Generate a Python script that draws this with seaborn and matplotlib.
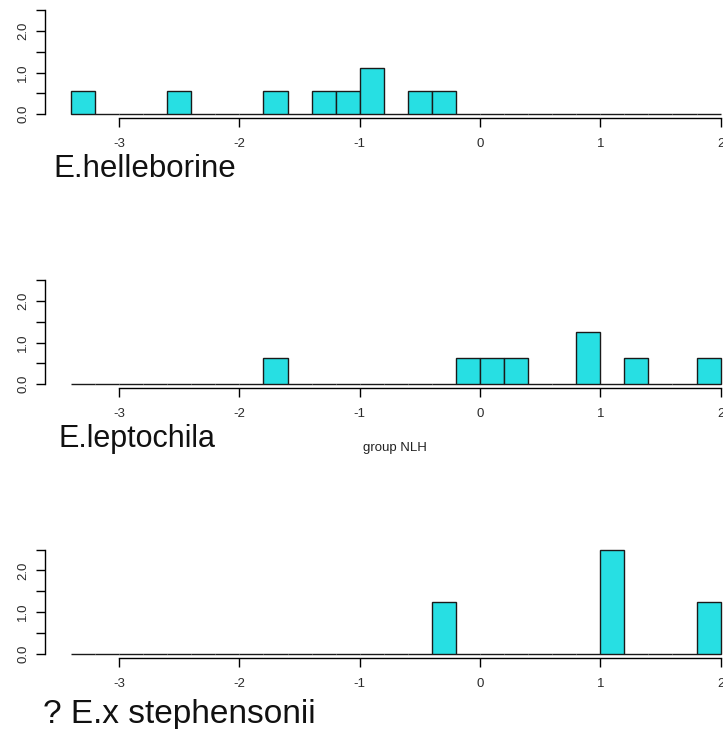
import numpy as np
import pandas as pd
import matplotlib
matplotlib.use("Agg")
import matplotlib.pyplot as plt
import seaborn as sns

# ---- data (LD1 scores) ----
groups = ["E.helleborine", "E.leptochila", "? E.x stephensonii"]
ld1_helleborine = [-3.3, -2.5, -1.7, -1.3, -1.1, -0.9, -0.9, -0.5, -0.3]
ld1_leptochila = [-1.7, -0.1, 0.1, 0.3, 0.9, 0.9, 1.3, 1.9]
ld1_stephensonii = [-0.3, 1.1, 1.1, 1.9]
group_values = [ld1_helleborine, ld1_leptochila, ld1_stephensonii]
x_ticks = [-3, -2, -1, 0, 1, 2]
y_ticks = [0.0, 0.5, 1.0, 1.5, 2.0, 2.5]
y_tick_labels = ["0.0", "", "1.0", "", "2.0", ""]
bin_edges = np.round(np.arange(-3.4, 2.01, 0.2), 1)
xlabel_text = "group NLH"

sns.set_theme(style="white")
plt.rcParams["font.family"] = ["Liberation Sans", "DejaVu Sans"]

W, H = 723, 729
fig = plt.figure(figsize=(W / 100, H / 100), dpi=100)

xlim = (-3.616, 2.216)
ylim = (-0.1, 2.6)
unit_px = 120.3
ax_w = (xlim[1] - xlim[0]) * unit_px
y_unit_px = 41.6
ax_h = (ylim[1] - ylim[0]) * y_unit_px
bottoms = [118.3, 388.3, 657.7]
title_pos = [(53, 177), (58, 447), (43, 723)]
title_sizes = [22.5, 22, 24]

fill = "#27DFE3"
edge = "#1a1a1a"

for i, (name, vals) in enumerate(zip(groups, group_values)):
    ax = fig.add_axes([45 / W, 1 - bottoms[i] / H, ax_w / W, ax_h / H])
    df = pd.DataFrame({"LD1": vals})
    sns.histplot(data=df, x="LD1", bins=bin_edges, stat="density",
                 color=fill, alpha=1, edgecolor=edge, linewidth=1.0, ax=ax)
    ax.set_xlim(*xlim)
    ax.set_ylim(*ylim)
    ax.set_xlabel("")
    ax.set_ylabel("")
    ax.set_xticks(x_ticks)
    ax.set_xticklabels([str(t) for t in x_ticks])
    ax.set_yticks(y_ticks)
    ax.set_yticklabels(y_tick_labels, rotation=90, va="center")
    for s in ["top", "right"]:
        ax.spines[s].set_visible(False)
    ax.spines["left"].set_bounds(0, 2.5)
    ax.spines["bottom"].set_bounds(-3, 2)
    for s in ["left", "bottom"]:
        ax.spines[s].set_color("black")
        ax.spines[s].set_linewidth(1.0)
    ax.tick_params(axis="both", which="both", length=6.5, width=1.0,
                   color="black", labelsize=9.5, labelcolor="#2a2a2a",
                   direction="out", bottom=True, left=True)
    ax.tick_params(axis="x", pad=8)
    ax.tick_params(axis="y", pad=5)
    ax.patch.set_alpha(0)
    tx, ty = title_pos[i]
    fig.text(tx / W, 1 - ty / H, name, fontsize=title_sizes[i],
             color="#111111", ha="left", va="baseline")

fig.text(363 / W, 1 - 448 / H, xlabel_text, fontsize=9.5, color="#222222",
         ha="left", va="center")

fig.savefig("out.png", dpi=100)
